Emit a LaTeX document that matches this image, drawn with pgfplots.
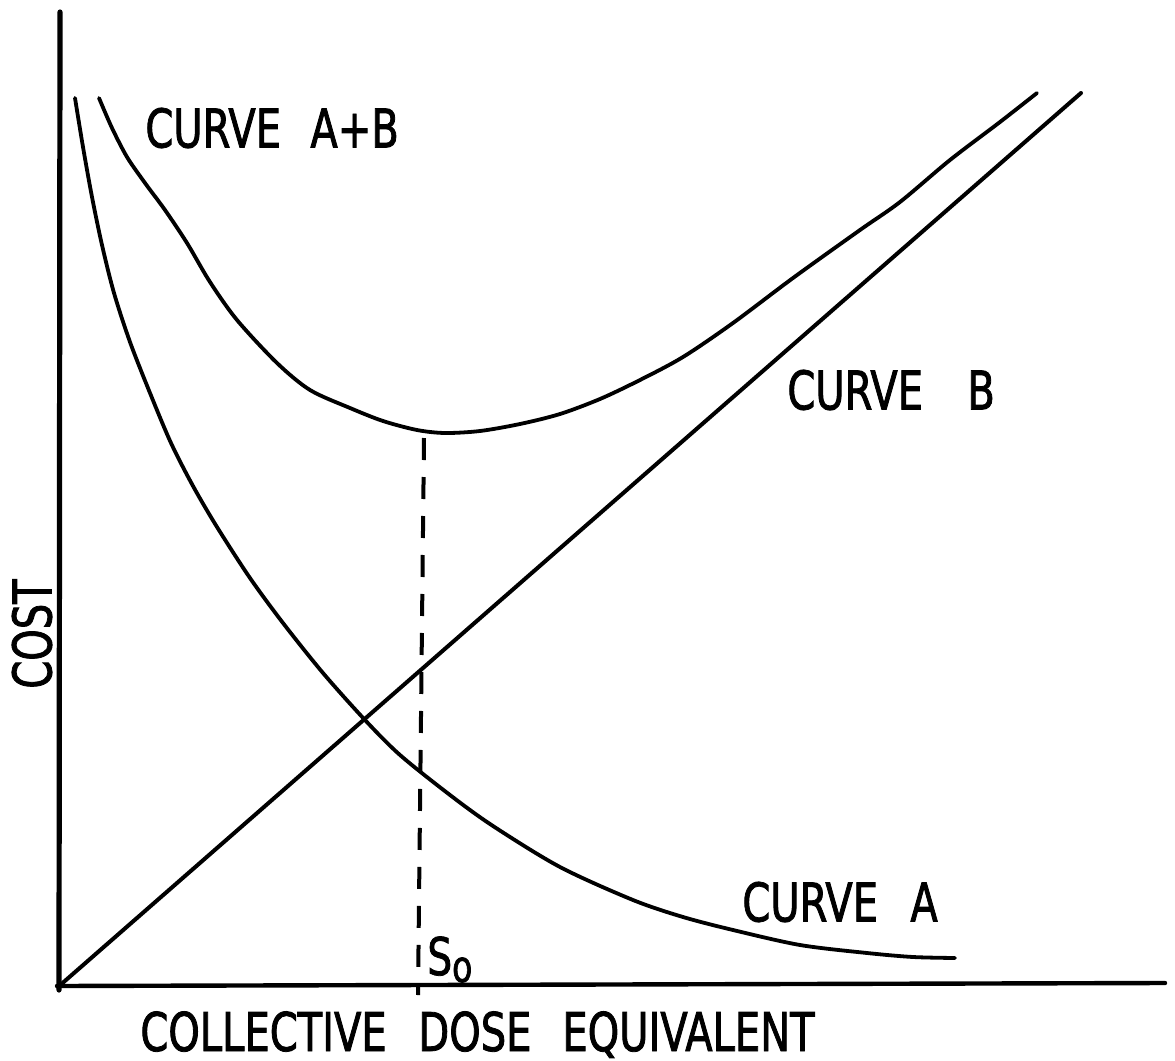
\documentclass[border=0pt]{standalone}
\usepackage{fontspec}
\setmainfont{DejaVu Sans}[FakeStretch=0.75, FakeBold=1.5]
\usepackage{pgfplots}
\pgfplotsset{compat=1.18}
\newcommand{\lf}{\fontsize{26.7}{30}\selectfont}
\begin{document}
\begin{tikzpicture}
\begin{axis}[
  scale only axis, hide axis, clip=false,
  width=587.5pt, height=530.5pt,
  xmin=0, xmax=1175, ymin=0, ymax=1061, y dir=reverse,
]
% frame for bounding box
\addplot[draw=none] coordinates {(0,0) (1175,1061)};
% axes
\addplot[black, line width=2.6pt, line cap=round] coordinates {(60,12) (59,990)};
\addplot[black, line width=2.2pt, line cap=round] coordinates {(57,986) (1165,983)};
% curve B
\addplot[black, line width=2pt, line cap=round] coordinates {(58,987) (1081,93)};
% curve A
\addplot[black, line width=1.9pt, smooth, line cap=round] coordinates {
(75,98) (83,147) (92,197) (102,245) (114,293) (130,342) (150,393) (171,443)
(193,486) (217,527) (250,578) (283,623) (323,673) (365,720) (400,755) (450,795)
(493,826) (560,867) (633,900) (683,917) (733,930) (800,945) (867,953) (913,957)
(955,958)};
% curve A+B
\addplot[black, line width=1.9pt, smooth, line cap=round] coordinates {
(99,98) (112,128) (127,157) (145,183) (165,210) (187,243) (210,282) (237,320)
(277,363) (310,390) (350,408) (383,421) (417,430) (445,433) (480,431) (520,424)
(560,414) (600,399) (640,380) (683,357) (733,323) (793,278) (860,230) (900,202)
(950,160) (1000,122) (1037,93)};
% S0 dashed line
\addplot[black, line width=2pt, dash pattern=on 11pt off 8.5pt] coordinates {(424,438) (418,995)};
% labels
\node[inner sep=0pt, anchor=west] at (axis cs:145,128) {\lf CURVE};
\node[inner sep=0pt, anchor=west] at (axis cs:310,128) {\lf A+B};
\node[inner sep=0pt, anchor=west] at (axis cs:787,390) {\lf CURVE};
\node[inner sep=0pt, anchor=west] at (axis cs:967,390) {\lf B};
\node[inner sep=0pt, anchor=west] at (axis cs:742,902) {\lf CURVE};
\node[inner sep=0pt, anchor=west] at (axis cs:910,902) {\lf A};
\node[inner sep=0pt, rotate=90] at (axis cs:32,634) {\lf COST};
\node[inner sep=0pt, anchor=base west] at (axis cs:140,1051) {\lf COLLECTIVE};
\node[inner sep=0pt, anchor=base west] at (axis cs:418,1051) {\lf DOSE};
\node[inner sep=0pt, anchor=base west] at (axis cs:562,1051) {\lf EQUIVALENT};
\node[inner sep=0pt, anchor=base west] at (axis cs:427,975) {\fontsize{26}{30}\selectfont S\raisebox{-3.5pt}{\fontsize{22}{26}\selectfont o}};
\end{axis}
\end{tikzpicture}
\end{document}
